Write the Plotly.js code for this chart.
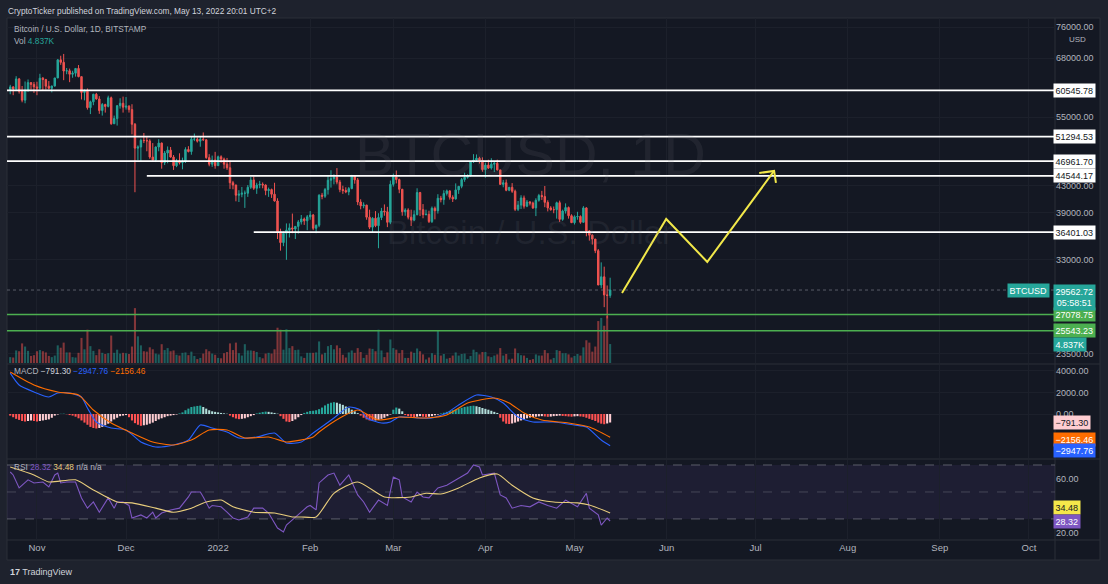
<!DOCTYPE html>
<html><head><meta charset="utf-8">
<script src="https://cdn.plot.ly/plotly-3.0.1.min.js"></script>
<style>html,body{margin:0;padding:0;background:#1e222d;}#chart{width:1108px;height:584px;}</style>
</head><body><div id="chart"></div>
<script>
// ---------- DATA (BTC/USD daily, Bitstamp, 2021-10-23 .. 2022-05-13) ----------
const firstDay = [2021, 9, 23];
const open = [
60700,61300,60850,63080,60330,58450,60600,62250,61850,
61300,61000,63250,62950,61450,61000,61500,63300,67550,66950,64900,64950,64150,64400,65500,63600,60100,60350,56900,58100,59700,58700,56300,57550,57150,58950,53700,54700,57300,57800,
57000,57200,56500,53600,49200,49400,50600,50550,50500,47650,47150,49400,50100,46700,48350,48850,47650,46200,46850,46700,46900,48950,48600,50800,50800,50450,50800,50700,47550,46450,47150,
46200,47700,47300,46450,45850,43450,43100,41550,41700,41850,41850,42750,43900,42600,43100,43200,43100,42250,42400,41700,40700,36450,35050,36250,36650,36950,36800,37150,37750,38150,37900,
38450,38700,36900,37300,41550,41400,42400,43850,44100,44350,43550,42400,42250,42050,42550,44550,43900,40550,40000,40100,38400,37050,38250,37250,38350,39250,39150,37700,
43200,44400,43950,42450,39150,39400,38400,38000,38750,41950,39450,38750,38800,37800,39650,39300,41100,40900,41800,42200,41250,41000,42350,42900,43950,44300,44550,46850,47150,47450,47050,
45550,46300,45800,46450,46600,45500,43200,43450,42300,42750,42150,39500,40100,41150,39950,40550,40400,39700,40800,41500,41350,40500,39700,39450,39450,40450,38100,39250,39750,38600,
37650,38450,38500,37700,39700,36550,36000,35500,34050,30100,31000,29050,29000];
const high = [
61750,61450,63700,63300,61500,62500,62950,62300,62400,
62450,64250,63500,63100,62600,61550,63300,67700,68550,69000,65600,65450,64950,65500,66300,63600,60750,60950,58350,59800,60000,59300,57850,57700,59400,59200,55300,57400,58850,59200,
59100,57400,57600,53850,49700,50900,51950,51200,50800,50100,49500,50800,50200,48700,49500,49400,48000,47350,48300,47550,49350,49550,51350,51850,51150,51250,52050,50750,48150,47900,48550,
47900,47950,47550,47500,47050,43750,43150,42300,42800,42250,43100,44350,44450,43450,43750,43500,43200,42700,42550,43450,41100,36850,36500,37550,37550,38900,37200,38000,38700,38350,38700,
39250,38850,37400,41700,41900,42650,44500,45450,44800,45800,43900,43000,42750,42800,44700,44550,44200,40950,40500,40150,39450,38400,39250,38950,39700,40200,39850,43800,
44900,45400,44100,42500,39650,39650,39450,39350,42600,42050,40250,39450,39300,39900,39900,41700,41450,42300,42400,42300,41550,43350,42950,44200,45050,44800,46900,48150,48100,47700,47600,
46700,47200,47450,46900,47200,45500,43900,43950,42800,43400,42400,40700,41550,41500,40850,40700,40600,41100,41750,42200,42950,40800,39950,39900,40600,40750,39450,40350,39900,38800,
38650,39150,38650,39950,39800,36650,36100,35500,34250,32650,32150,30050,30900];
const low = [
59700,59500,60650,59850,58000,57800,60200,60700,60000,
59500,60700,60400,60700,60750,60100,61350,63250,66350,62800,64150,62350,63350,63600,63450,58600,58400,56500,55600,57400,58550,55650,55300,55900,56950,53500,53650,53350,56700,55900,
56500,55900,51700,42000,47100,47000,50100,48650,47350,47100,46800,48650,45700,46300,46600,47550,45500,45950,46400,45600,46650,48450,48050,50450,50200,49450,50500,47350,46100,46000,45700,
46200,46700,45700,45500,42500,42450,40650,40550,41250,39700,41300,42500,42350,41750,42600,42600,41550,41300,41150,40600,35500,34050,34600,32950,35700,36250,35500,36200,37400,37350,36650,
38050,36650,36250,37050,40950,41150,41650,42700,43200,43200,42000,41750,41850,41550,42450,43300,40100,39500,39650,38050,36800,36400,37050,34350,38000,38600,37050,37450,
42850,43350,41850,38600,38600,38100,37200,37850,38650,38550,38250,38650,37600,37600,38100,38900,40500,40150,41500,40900,40550,40900,41750,42600,43600,44100,44400,46650,46950,46550,45200,
44250,45650,45550,45150,45400,43100,42750,42150,42150,41900,39250,39250,39550,39600,39800,40050,39550,38550,40600,40850,39800,39200,39300,38950,38200,37750,37900,38900,38200,37600,
37400,38050,37500,37650,35850,35300,34800,33750,30100,29750,27800,26700,28750];
const close = [
61300,60850,63080,60330,58450,60600,62250,61850,61300,
61000,63250,62950,61450,61000,61500,63300,67550,66950,64900,64950,64150,64400,65500,63600,60100,60350,56900,58100,59700,58700,56300,57550,57150,58950,53700,54700,57300,57800,57000,
57200,56500,53600,49200,49400,50600,50550,50500,47650,47150,49400,50100,46700,48350,48850,47650,46200,46850,46700,46900,48950,48600,50800,50800,50450,50800,50700,47550,46450,47150,46200,
47700,47300,46450,45850,43450,43100,41550,41700,41850,41850,42750,43900,42600,43100,43200,43100,42250,42400,41700,40700,36450,35050,36250,36650,36950,36800,37150,37750,38150,37900,38450,
38700,36900,37300,41550,41400,42400,43850,44100,44350,43550,42400,42250,42050,42550,44550,43900,40550,40000,40100,38400,37050,38250,37250,38350,39250,39150,37700,43200,
44400,43950,42450,39150,39400,38400,38000,38750,41950,39450,38750,38800,37800,39650,39300,41100,40900,41800,42200,41250,41000,42350,42900,43950,44300,44550,46850,47150,47450,47050,45550,
46300,45800,46450,46600,45500,43200,43450,42300,42750,42150,39500,40100,41150,39950,40550,40400,39700,40800,41500,41350,40500,39700,39450,39450,40450,38100,39250,39750,38600,37650,
38450,38500,37700,39700,36550,36000,35500,34050,30100,31000,29050,29000,29560];
const volume = [
1500,1400,3200,3000,5000,4200,3100,1800,2000,
3000,3300,3000,2700,1800,1500,1900,4500,3900,5200,2700,2700,1500,1400,2600,6400,3500,8500,4300,3100,2000,3500,2600,2300,2500,7000,2600,3400,2400,2600,
2500,2300,4200,14000,6800,4500,3000,2900,4000,3500,2400,2200,4800,3300,3800,3000,3200,2100,1900,2600,2700,2000,2900,1800,1000,1300,2400,3500,3000,2400,2100,
1300,1200,2500,2800,5000,3300,5200,2500,1900,4800,3200,3200,3100,2800,1500,1200,2400,2600,2400,3500,9000,8500,3400,8600,3800,4300,3300,3400,1700,1300,2600,
2600,2600,2700,5500,2200,2600,4300,4600,3500,4500,3800,2100,1400,2700,3200,2600,3800,2800,1300,2100,3700,3600,3000,8500,3200,1500,2700,6000,
3800,3400,2500,3300,1300,1300,2900,2600,3700,3000,2200,900,1400,2500,2100,8400,1900,2300,1100,1300,1900,2700,1900,2300,2400,1000,1800,3400,2800,2200,2800,
2800,1700,1500,1900,2200,3800,1900,2300,900,1100,3700,2500,2000,1900,1300,800,1000,2200,1900,1900,3300,2500,900,1300,3300,3100,2500,2500,2200,1400,
1800,2300,1900,4000,5800,5200,2900,4200,10700,11500,9500,12000,4837];
const macdHist = [
-150,-300,-450,-550,-650,-700,-650,-600,-650,-700,-650,-600,-550,-500,-350,-150,
-50,20,30,-20,
-100,-150,-250,-400,-600,-800,-1000,-1200,-1300,-1350,-1300,-1200,-1050,-900,-700,-500,-350,-200,
-150,-100,
-300,-600,-850,-1000,-1100,-1050,-1000,-900,-800,-650,-500,-400,-300,
-200,-150,-100,-50,50,
150,350,500,650,700,750,780,650,500,350,
250,200,150,100,60,20,
-150,-300,-420,-480,-450,-400,-300,-200,-100,
50,120,180,220,200,150,100,30,
-200,-450,-700,-750,-650,-500,-300,-100,
100,200,280,300,350,450,
600,800,950,1050,1100,1050,950,850,700,550,400,250,80,
-150,-350,-500,-600,-620,-600,-550,-450,-350,-200,-50,
400,600,500,250,
-100,-200,-250,-300,-250,-200,-250,-300,-250,-200,-120,-50,
50,120,200,280,350,420,500,580,650,700,750,770,720,650,560,480,400,300,200,100,
-350,-700,-900,-930,-880,-800,-700,-600,-500,-400,-330,-280,
-250,-220,-200,-230,-260,-240,-200,-180,-150,-180,-200,-230,-250,-220,-200,-230,-260,
-350,-450,-550,-650,-800,-900,-950,-880,-791.30];
// MACD / signal lines (day offsets from first candle)
const macdDays = [0,3,8,13,16,20,24,26,29,34,39,44,49,55,60,64,68,73,77,83,89,93,98,102,109,114,118,120,125,128,131,137,142,147,151,157,162,166,171,176,183,190,194,199,202];
const macdLine = [3800,2700,2050,1580,1950,1950,1580,560,-740,-1300,-1490,-2600,-3070,-2880,-2420,-1020,-1300,-1670,-2230,-2140,-1770,-2700,-2600,-1770,-370,650,370,-370,-840,-740,-280,-370,-370,90,840,1770,1580,1020,-280,-740,-740,-1020,-1210,-2420,-2947.76];
const signalDays = [0,8,16,23,28,34,41,48,55,61,67,73,79,87,93,102,104,111,117,124,131,140,147,154,163,168,173,179,188,195,202];
const signalLine = [3900,2700,2050,1770,370,-840,-1770,-2600,-2880,-2420,-1490,-1490,-2230,-2140,-2600,-2140,-1670,-370,370,-560,-280,-370,-90,1020,1490,1020,90,-560,-840,-1210,-2156.46];
// RSI and its moving average
const rsiDays = [0,1,3,6,8,11,13,15,16,17,19,22,24,26,28,30,33,35,36,38,40,41,44,46,48,49,51,54,57,60,61,64,65,67,68,71,73,75,77,80,82,85,87,90,92,93,95,98,100,101,103,104,107,109,111,114,117,119,121,124,127,129,131,132,135,137,139,141,144,147,150,154,156,158,159,163,165,167,169,172,175,178,181,184,187,191,194,195,198,199,201,202];
const rsiLine = [64.8,62.6,53,59,56.7,57.4,53.7,62.6,64,56.7,57.4,57.4,45.6,38,42.6,35,45.6,38,42.6,42.6,40,30.7,33,30.7,35,30.7,34.4,36.7,38,46.3,50,50,46.3,38,40,39,35,30.7,29.3,31.5,38,38,34.4,23.3,20.4,25.5,29.3,35,39,40,36.7,56.7,62.6,64,55,62.6,47.8,42.6,35,44,40,61,59,46.3,42.6,50,46.3,45.6,53,55,59,64,70,68.5,62.6,64,47.8,45.6,38,40,39,42.6,40,38,44,39,49,38,33,25.5,30.7,28.32];
const rsiMaDays = [0,8,13,22,28,36,41,49,55,61,66,71,75,82,89,95,98,103,109,117,126,135,140,145,151,158,164,169,176,183,191,195,202];
const rsiMa = [68.5,62.6,57.4,59,51.5,42.6,41.9,38,35,38,42.6,44,39,35,34.4,31.5,31.5,31.5,49,57.4,46.3,46.3,49,48.5,53,60.4,63.3,55,45.6,42.6,41.9,40.4,34.48];
// drawn levels and projection
const whiteLevels = [60545.78, 51294.53, 46961.70, 44544.17, 36401.03];
const whiteLevelStart = ['2021-10-21 22:00','2021-10-21 22:00','2021-10-21 22:00','2021-12-08','2022-01-13'];
const greenLevels = [27078.75, 25543.23];
const pathDates = ['2022-05-17','2022-05-31 21:00','2022-06-14 17:00','2022-07-07 05:00'];
const pathPrices = [29250, 38150, 32700, 45330];
const arrowDates = ['2022-07-02 05:00','2022-07-07 05:00','2022-07-07 20:00'];
const arrowPrices = [45000, 45330, 43420];
const lastPrice = 29562.72, lastVolume = 4837;
const macdLast = [-791.30, -2947.76, -2156.46];
const rsiLast = [28.32, 34.48];
const monthTicks = ['2021-11-01','2021-12-01','2022-01-01','2022-02-01','2022-03-01','2022-04-01','2022-05-01','2022-06-01','2022-07-01','2022-08-01','2022-09-01','2022-10-01'];
const monthLabels = ['Nov','Dec','2022','Feb','Mar','Apr','May','Jun','Jul','Aug','Sep','Oct'];
const priceTicks = [23500, 33000, 39000, 43000, 55000, 68000, 76000];
const macdTicks = [0, 2000, 4000];
const rsiTicks = [20, 40, 60];

// ---------- BUILD ----------
const DAY = 86400000;
const t0 = Date.UTC(firstDay[0], firstDay[1], firstDay[2]);
const dayToDate = n => new Date(t0 + n * DAY).toISOString().slice(0, 10);
const dates = close.map((_, i) => dayToDate(i));
const xRange = ['2021-10-21 22:00', '2022-10-09 19:00'];

const UP = '#26a69a', DN = '#ef5350';
const volColors = close.map((c, i) => c >= open[i] ? 'rgba(38,166,154,0.5)' : 'rgba(239,83,80,0.5)');
const histColors = macdHist.map((h, i) => {
  const p = i > 0 ? macdHist[i - 1] : h;
  if (h >= 0) return h >= p ? '#26a69a' : '#b2dfdb';
  return h <= p ? '#ff5252' : '#ffcdd2';
});

const traces = [];
traces.push({type:'bar', x:dates, y:volume, yaxis:'y', marker:{color:volColors, line:{width:0}}, hoverinfo:'skip'});
traces.push({type:'candlestick', x:dates, open:open, high:high, low:low, close:close, yaxis:'y4',
  increasing:{line:{color:UP, width:1}, fillcolor:UP}, decreasing:{line:{color:DN, width:1}, fillcolor:DN}, hoverinfo:'skip'});
whiteLevels.forEach((v, i) => traces.push({type:'scatter', mode:'lines', x:[whiteLevelStart[i], xRange[1]], y:[v, v], yaxis:'y4', line:{color:'#ffffff', width:1.8}, hoverinfo:'skip'}));
greenLevels.forEach(v => traces.push({type:'scatter', mode:'lines', x:xRange, y:[v, v], yaxis:'y4', line:{color:'#4caf50', width:1.3}, hoverinfo:'skip'}));
traces.push({type:'scatter', mode:'lines', x:xRange, y:[lastPrice, lastPrice], yaxis:'y4', line:{color:'rgba(120,123,134,0.7)', width:1, dash:'dot'}, hoverinfo:'skip'});
traces.push({type:'scatter', mode:'lines', x:pathDates, y:pathPrices, yaxis:'y4', line:{color:'#f2e84a', width:2}, hoverinfo:'skip'});
traces.push({type:'scatter', mode:'lines', x:arrowDates, y:arrowPrices, yaxis:'y4', line:{color:'#f2e84a', width:2}, hoverinfo:'skip'});
// MACD
traces.push({type:'bar', x:dates.slice(0, macdHist.length), y:macdHist, yaxis:'y2', marker:{color:histColors, line:{width:0}}, hoverinfo:'skip'});
traces.push({type:'scatter', mode:'lines', x:macdDays.map(dayToDate), y:macdLine, yaxis:'y2', line:{color:'#2962ff', width:1.1, shape:'spline', smoothing:0.6}, hoverinfo:'skip'});
traces.push({type:'scatter', mode:'lines', x:signalDays.map(dayToDate), y:signalLine, yaxis:'y2', line:{color:'#ff6d00', width:1.1, shape:'spline', smoothing:0.6}, hoverinfo:'skip'});
// RSI
traces.push({type:'scatter', mode:'lines', x:rsiDays.map(dayToDate), y:rsiLine, yaxis:'y3', line:{color:'#7e57c2', width:1.1}, hoverinfo:'skip'});
traces.push({type:'scatter', mode:'lines', x:rsiMaDays.map(dayToDate), y:rsiMa, yaxis:'y3', line:{color:'#e8cd7c', width:1.1, shape:'spline', smoothing:0.6}, hoverinfo:'skip'});

// pixel -> paper helpers (plot area: x 7..1055, y 18..540)
const PX = X => (X - 7) / 1048;
const PY = Y => 1 - (Y - 18) / 522;
const F = 'Liberation Sans, Arial, sans-serif';
const GRID = '#1c202b';

const ann = [];
const txt = (X, Y, text, size, color, anchor) => ann.push({xref:'paper', yref:'paper', x:PX(X), y:PY(Y), xanchor:anchor || 'left', yanchor:'middle', text:text, showarrow:false, font:{family:F, size:size, color:color}});
txt(6, 11, 'CryptoTicker published on TradingView.com, May 13, 2022 20:01 UTC+2', 8.3, '#d1d4dc');
txt(12, 29, 'Bitcoin / U.S. Dollar, 1D, BITSTAMP', 8.3, '#b2b5be');
txt(12, 41, 'Vol <span style="color:#26a69a">4.837K</span>', 8.3, '#b2b5be');
txt(12, 371, 'MACD <span style="color:#d1d4dc">\u2212791.30</span> <span style="color:#2962ff">\u22122947.76</span> <span style="color:#ff6d00">\u22122156.46</span>', 8.3, '#b2b5be');
txt(12, 467, 'RSI <span style="color:#7e57c2">28.32</span> <span style="color:#e8cd7c">34.48</span> n/a n/a', 8.3, '#b2b5be');
txt(8, 572, '<b>17</b> TradingView', 9, '#d1d4dc');
txt(530, 155, 'BTCUSD, 1D', 59, 'rgba(120,123,134,0.13)', 'center');
txt(530, 232, 'Bitcoin / U.S. Dollar', 33, 'rgba(120,123,134,0.13)', 'center');
ann.push({xref:'paper', yref:'paper', x:PX(1077), y:PY(39), xanchor:'center', yanchor:'middle', text:'USD', showarrow:false, font:{family:F, size:8, color:'#b2b5be'}});

const fmt = v => (v < 0 ? '\u2212' : '') + Math.abs(v).toFixed(2);
const box = (yref, y, text, bg, fg, yshift, opts) => ann.push(Object.assign({xref:'paper', x:1, xanchor:'left', xshift:-2, yref:yref, y:y, yanchor:'middle', yshift:yshift || 0,
  text:text, showarrow:false, bgcolor:bg, borderpad:1.5, font:{family:F, size:9, color:fg}}, opts || {}));
whiteLevels.forEach(v => box('y4', Math.log10(v), v.toFixed(2), '#ffffff', '#131722', 0));
box('y4', Math.log10(greenLevels[0]), greenLevels[0].toFixed(2), '#4caf50', '#ffffff', 0);
box('y4', Math.log10(greenLevels[1]), greenLevels[1].toFixed(2), '#4caf50', '#ffffff', 0);
box('y4', Math.log10(lastPrice), lastPrice.toFixed(2) + '<br>05:58:51', UP, '#ffffff', 6, {yanchor:'top'});
box('y4', Math.log10(lastPrice), 'BTCUSD', UP, '#ffffff', 0, {xanchor:'right', xshift:-5});
box('y', lastVolume, (lastVolume / 1000).toFixed(3) + 'K', UP, '#ffffff', 0);
box('y2', macdLast[0], fmt(macdLast[0]), '#ffcdd2', '#131722', 0);
box('y2', macdLast[2], fmt(macdLast[2]), '#ff6d00', '#ffffff', -2);
box('y2', macdLast[1], fmt(macdLast[1]), '#2962ff', '#ffffff', -5);
box('y3', rsiLast[1], rsiLast[1].toFixed(2), '#f5e74a', '#131722', 5);
box('y3', rsiLast[0], rsiLast[0].toFixed(2), '#7e57c2', '#ffffff', 0);

const shapes = [
  {type:'rect', xref:'paper', yref:'paper', x0:0, x1:PX(1100), y0:PY(560), y1:1, fillcolor:'#141823', line:{color:'#2a2e39', width:1}, layer:'below'},
  {type:'line', xref:'paper', yref:'paper', x0:0, x1:PX(1100), y0:PY(364), y1:PY(364), line:{color:'#2a2e39', width:1}, layer:'below'},
  {type:'line', xref:'paper', yref:'paper', x0:0, x1:PX(1100), y0:PY(459), y1:PY(459), line:{color:'#2a2e39', width:1}, layer:'below'},
  {type:'line', xref:'paper', yref:'paper', x0:0, x1:PX(1100), y0:0, y1:0, line:{color:'#2a2e39', width:1}, layer:'below'},
  {type:'line', xref:'paper', yref:'paper', x0:1, x1:1, y0:PY(560), y1:1, line:{color:'#2a2e39', width:1}, layer:'below'},
  {type:'rect', xref:'paper', yref:'y3', x0:0, x1:1, y0:30, y1:70, fillcolor:'rgba(126,87,194,0.1)', line:{width:0}, layer:'below'},
  {type:'line', xref:'paper', yref:'y3', x0:0, x1:1, y0:70, y1:70, line:{color:'rgba(120,123,134,0.7)', width:1, dash:'dash'}, layer:'below'},
  {type:'line', xref:'paper', yref:'y3', x0:0, x1:1, y0:50, y1:50, line:{color:'rgba(120,123,134,0.45)', width:1, dash:'dash'}, layer:'below'},
  {type:'line', xref:'paper', yref:'y3', x0:0, x1:1, y0:30, y1:30, line:{color:'rgba(120,123,134,0.7)', width:1, dash:'dash'}, layer:'below'}
];

const tickFont = {family:F, size:9, color:'#b2b5be'};
const layout = {
  width:1108, height:584, margin:{l:7, r:53, t:18, b:44},
  paper_bgcolor:'#1e222d', plot_bgcolor:'rgba(0,0,0,0)',
  showlegend:false, hovermode:false, bargap:0.3,
  font:{family:F, size:9, color:'#b2b5be'},
  xaxis:{type:'date', range:xRange, anchor:'y3', tickvals:monthTicks, ticktext:monthLabels, ticks:'', showline:false, zeroline:false,
         showgrid:true, gridcolor:GRID, tickfont:{family:F, size:9.5, color:'#b2b5be'}, rangeslider:{visible:false}, fixedrange:true},
  yaxis:{domain:[PY(363), 1], range:[0, 88000], visible:false, fixedrange:true},
  yaxis4:{overlaying:'y', anchor:'x', side:'right', type:'log', range:[Math.log10(22750), Math.log10(78500)], tickvals:priceTicks,
          ticktext:priceTicks.map(v => v.toFixed(2)), ticks:'', showgrid:true, gridcolor:GRID, zeroline:false, showline:false, tickfont:tickFont, fixedrange:true},
  yaxis2:{domain:[PY(458), PY(365)], anchor:'x', side:'right', range:[-4092, 4557], tickvals:macdTicks, ticktext:macdTicks.map(v => v.toFixed(2)),
          ticks:'', showgrid:true, gridcolor:GRID, zeroline:false, showline:false, tickfont:tickFont, fixedrange:true},
  yaxis3:{domain:[0, PY(460)], anchor:'x', side:'right', range:[14.4, 73.7], tickvals:rsiTicks, ticktext:rsiTicks.map(v => v.toFixed(2)),
          ticks:'', showgrid:false, zeroline:false, showline:false, tickfont:tickFont, fixedrange:true},
  annotations:ann, shapes:shapes
};
Plotly.newPlot('chart', traces, layout, {displayModeBar:false, staticPlot:true});
</script></body></html>
